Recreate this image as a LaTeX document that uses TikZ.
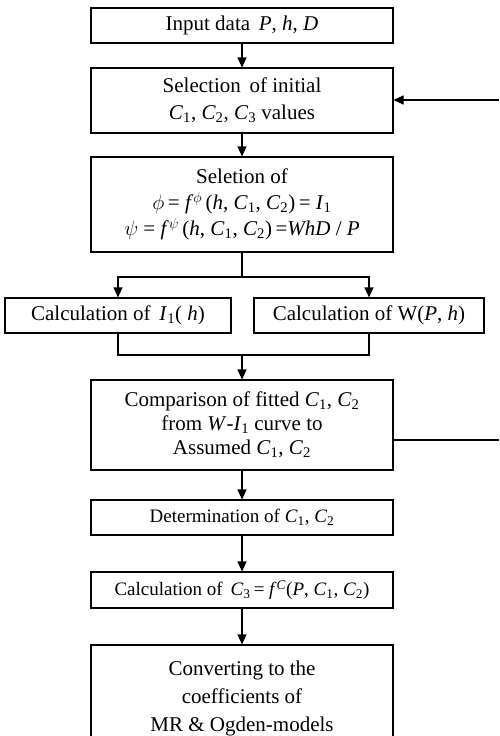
\documentclass[tikz,border=0pt]{standalone}
\usepackage{fontspec}
\setmainfont{Liberation Serif}
\usetikzlibrary{arrows.meta,shadows}
\newcommand\myC[1]{\textit{C}\textsubscript{#1}}
\newcommand\myI{\textit{I}\textsubscript{1}}
\begin{document}
\begin{tikzpicture}[x=1pt,y=1pt,
  box/.style={draw,line width=1.1pt,fill=white,align=center,inner sep=0pt,
    font=\fontsize{21}{26}\selectfont,
    drop shadow={shadow xshift=1.3pt,shadow yshift=-1.3pt,fill=black,opacity=0.9}},
  mainbox/.style={box,minimum width=302pt},
  conn/.style={line width=1.1pt},
  arr/.style={conn,-{Triangle[length=10pt,width=9pt]}}]
\useasboundingbox (0,0) rectangle (499,-736);
\node[mainbox,minimum height=35pt] (b1) at (242,-25.5) {Input data \,\textit{P}, \textit{h}, \textit{D}};
\node[mainbox,minimum height=65pt,font=\fontsize{21}{27}\selectfont] (b2) at (242,-100.5) {Selection \,of initial\\ \myC{1}, \myC{2}, \myC{3} values};
\node[mainbox,minimum height=95pt] (b3) at (242,-204.5) {Seletion of\\
  $\phi$\,= \textit{f}\textsuperscript{$\phi$}\,(\textit{h}, \myC{1}, \myC{2})\,= \myI\\
  $\psi$ = \textit{f}\textsuperscript{$\psi$}\,(\textit{h}, \myC{1}, \myC{2})\,=\textit{WhD} / \textit{P}};
\node[box,minimum width=226pt,minimum height=35pt] (cl) at (118,-315.5) {Calculation of \,\myI( \textit{h})};
\node[box,minimum width=230pt,minimum height=35pt] (cr) at (369,-315.5) {Calculation of W(\textit{P}, \textit{h})};
\node[mainbox,minimum height=90pt,font=\fontsize{21}{24}\selectfont] (cmp) at (242,-425) {Comparison of fitted \myC{1}, \myC{2}\\ from \textit{W}-\myI{} curve to\\ Assumed \myC{1}, \myC{2}};
\node[mainbox,minimum height=35pt,font=\fontsize{19}{21}\selectfont] (det) at (242,-517.5) {Determination of \myC{1}, \myC{2}};
\node[mainbox,minimum height=36pt,font=\fontsize{19}{21}\selectfont] (c3) at (242,-590) {Calculation of \,\myC{3}\,= \textit{f}\textsuperscript{\textit{C}}(\textit{P}, \myC{1}, \myC{2})};
\node[mainbox,minimum height=106pt,font=\fontsize{21}{28}\selectfont] (cv) at (242,-698) {Converting to the\\ coefficients of\\ MR \& Ogden-models};
\coordinate (sp) at (242,-277);
\coordinate (mg) at (242,-355);
\coordinate (fa) at (499,-440);
\coordinate (fb) at (499,-100);
\draw[arr] (b1) -- (b2);
\draw[arr] (b2) -- (b3);
\draw[conn] (b3.south) -- (sp);
\draw[arr] (sp) -| (cl.north);
\draw[arr] (sp) -| (cr.north);
\draw[conn] (cl.south) |- (mg);
\draw[conn] (cr.south) |- (mg);
\draw[arr] (mg) -- (cmp.north);
\draw[arr] (cmp) -- (det);
\draw[arr] (det) -- (c3);
\draw[arr] (c3) -- (cv);
\draw[conn] (cmp.east |- fa) -- (fa);
\draw[arr] (fb) -- (b2.east |- fb);
\end{tikzpicture}
\end{document}
